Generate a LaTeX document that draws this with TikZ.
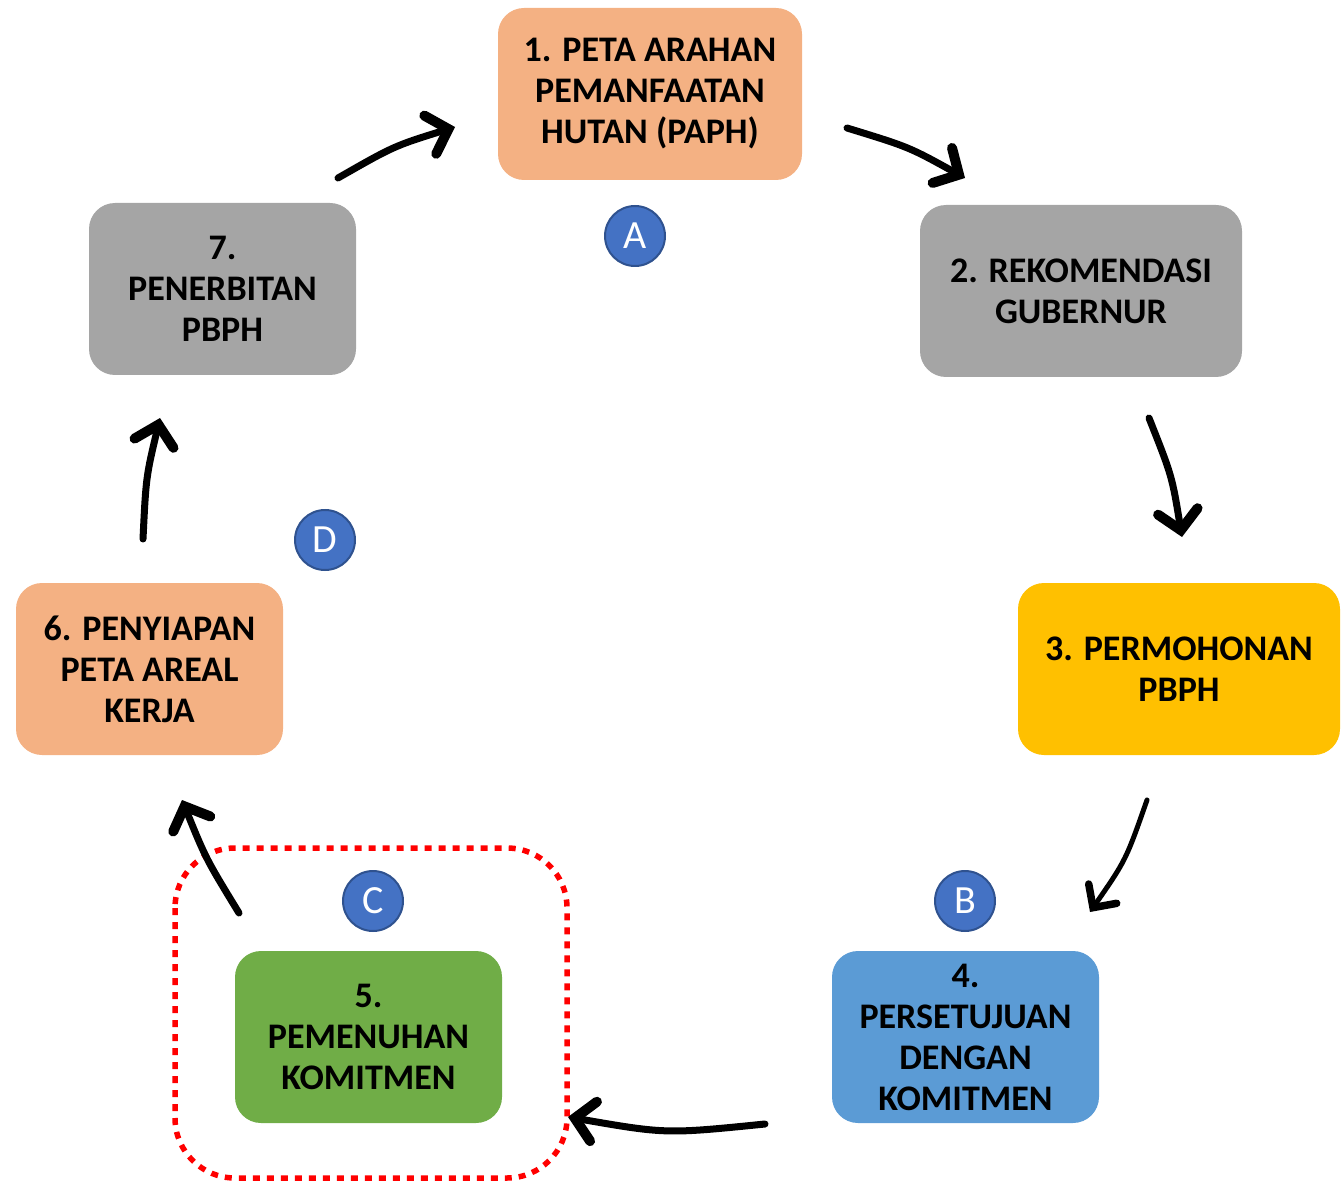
\documentclass[tikz,border=0pt]{standalone}
\usepackage{fontspec}
\setmainfont{Carlito}
\usetikzlibrary{arrows.meta}
\definecolor{cSalmon}{HTML}{F4B183}
\definecolor{cGray}{HTML}{A5A5A5}
\definecolor{cGold}{HTML}{FFC000}
\definecolor{cBlue}{HTML}{5B9BD5}
\definecolor{cGreen}{HTML}{70AD47}
\definecolor{cCircle}{HTML}{4472C4}
\definecolor{cCircleB}{HTML}{2F528F}
\begin{document}
\begin{tikzpicture}[x=1pt,y=-1pt,
  stepbox/.style={rectangle, rounded corners=26pt, draw=none, inner sep=0pt,
    align=center, font=\fontsize{36}{41}\selectfont\bfseries, text=black},
  letter/.style={circle, fill=cCircle, draw=cCircleB, line width=2pt, minimum size=60pt,
    inner sep=0pt, text=white, font=\fontsize{40}{40}\selectfont},
  flow/.style={line width=7pt, line cap=round, line join=round,
    -{Straight Barb[length=19pt,width=40pt,line width=10pt 0 1,line cap=round,line join=miter]}},
  thinflow/.style={line width=5pt, line cap=round, line join=round,
    -{Straight Barb[length=17pt,width=34pt,line width=7.5pt 0 1,line cap=round,line join=miter]}}
]
\useasboundingbox (0,0) rectangle (1342,1182);

% dotted frame
\draw[red, line width=5.5pt, dash pattern=on 7pt off 7pt, rounded corners=60pt]
  (175,848) rectangle (567,1178);

\node[stepbox, fill=cSalmon, minimum width=304pt, minimum height=172pt] (n1) at (650,94)
  {1. PETA ARAHAN\\PEMANFAATAN\\HUTAN (PAPH)};
\node[stepbox, fill=cGray, minimum width=322pt, minimum height=172pt] (n2) at (1081,291)
  {2. REKOMENDASI\\GUBERNUR};
\node[stepbox, fill=cGold, minimum width=322pt, minimum height=172pt] (n3) at (1179,669)
  {3. PERMOHONAN\\PBPH};
\node[stepbox, fill=cBlue, minimum width=267pt, minimum height=172pt] (n4) at (965.5,1037)
  {4.\\PERSETUJUAN\\DENGAN\\KOMITMEN};
\node[stepbox, fill=cGreen, minimum width=267pt, minimum height=172pt] (n5) at (368.5,1037)
  {5.\\PEMENUHAN\\KOMITMEN};
\node[stepbox, fill=cSalmon, minimum width=267pt, minimum height=172pt] (n6) at (149.5,669)
  {6. PENYIAPAN\\PETA AREAL\\KERJA};
\node[stepbox, fill=cGray, minimum width=267pt, minimum height=172pt] (n7) at (222.5,289)
  {7.\\PENERBITAN\\PBPH};

\node[letter] (cA) at (635,236) {A};
\node[letter] (cB) at (965,901) {B};
\node[letter] (cC) at (373,901) {C};
\node[letter] (cD) at (325,540) {D};

% arrow end points
\coordinate (s71) at (338,178); \coordinate (e71) at (455,127);
\coordinate (s12) at (847,128); \coordinate (e12) at (965,178);
\coordinate (s23) at (1149,418); \coordinate (e23) at (1182,537);
\coordinate (s34) at (1147,800); \coordinate (e34) at (1090,912);
\coordinate (s45) at (765,1124); \coordinate (e45) at (568,1117);
\coordinate (s56) at (239,913); \coordinate (e56) at (182,800);
\coordinate (s67) at (143,539); \coordinate (e67) at (160,418);

\draw[flow] (s71) .. controls (394,146) .. (e71);
\draw[flow] (s12) .. controls (909,147) .. (e12);
\draw[flow] (s23) .. controls (1172,476) .. (e23);
\draw[thinflow] (s34) .. controls (1126,860) .. (e34);
\draw[flow] (s45) .. controls (666,1134) .. (e45);
\draw[flow] (s56) .. controls (206,859) .. (e56);
\draw[flow] (s67) .. controls (146,477) .. (e67);
\end{tikzpicture}
\end{document}
